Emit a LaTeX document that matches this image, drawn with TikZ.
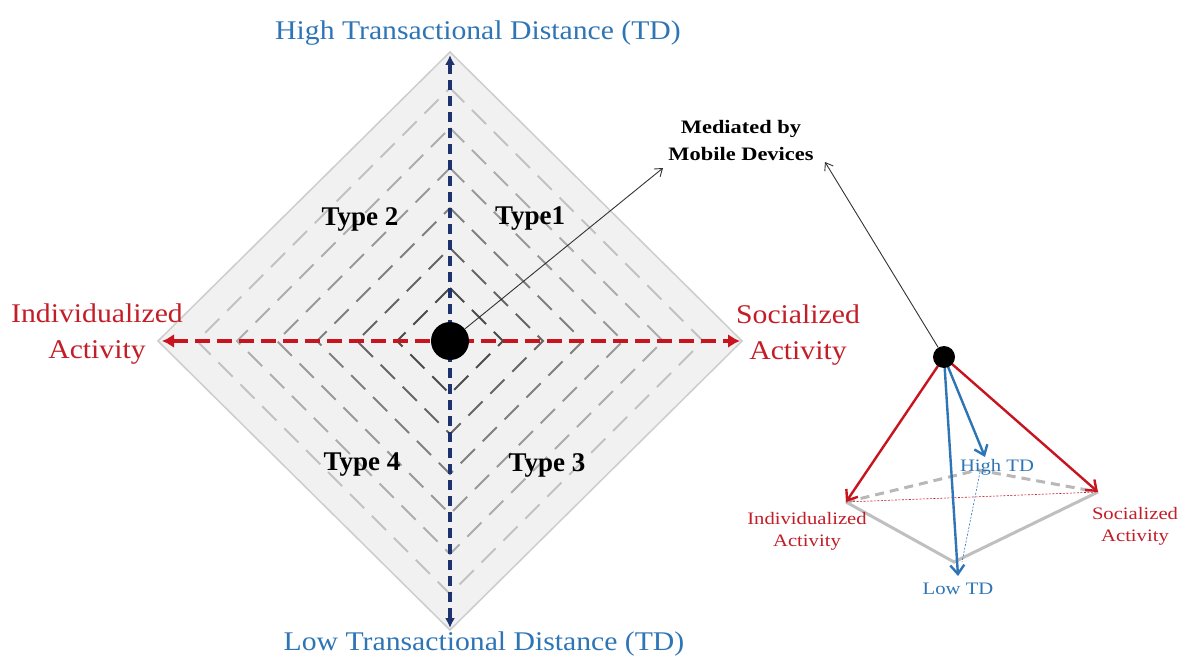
\documentclass[tikz,border=0pt]{standalone}
\usepackage{fontspec}
\setmainfont{Liberation Serif}
\newfontfamily\wideserif[FakeStretch=1.1]{Liberation Serif}
\newfontfamily\widerserif[FakeStretch=1.18]{Liberation Serif}
\usetikzlibrary{arrows.meta}
\definecolor{tdblue}{RGB}{46,117,182}
\definecolor{axblue}{RGB}{30,50,110}
\definecolor{axred}{RGB}{200,20,30}
\definecolor{txred}{RGB}{195,30,40}
\definecolor{diamfill}{RGB}{241,241,241}
\definecolor{diamedge}{RGB}{205,205,205}
\tikzset{
  lbl/.style={font=\wideserif\fontsize{27}{36}\selectfont, align=center},
  typelbl/.style={font=\bfseries\fontsize{27}{29}\selectfont},
  smalllbl/.style={font=\widerserif\fontsize{17.5}{22}\selectfont, align=center},
  ring/.style={line width=2pt, dash pattern=on 20pt off 11pt},
  connector/.style={draw=black!80, line width=0.9pt, -{Straight Barb[length=7pt,width=10pt]}},
}
\begin{document}
\begin{tikzpicture}[x=1pt,y=-1pt]
\useasboundingbox (0,0) rectangle (1181,660);
\fill[white] (0,0) rectangle (1181,660);
% diamond
\coordinate (top) at (450,52);
\coordinate (bot) at (450,630);
\coordinate (lft) at (158,341);
\coordinate (rgt) at (742,341);
\filldraw[fill=diamfill, draw=diamedge, line width=1.5pt] (top)--(rgt)--(bot)--(lft)--cycle;
\foreach \r/\c in {253/24,213/32,173/40,133/50,93/60,53/70}{
  \draw[ring, draw=black!\c] (450,341-\r) -- (450+\r,341) -- (450,341+\r) -- (450-\r,341) -- cycle;
}
% axes
\draw[axblue, line width=3.5pt, dash pattern=on 10pt off 6pt, {Latex[length=10pt,width=10pt]}-{Latex[length=10pt,width=10pt]}] (450,55) -- (450,628);
\draw[axred, line width=4.5pt, dash pattern=on 15pt off 7pt, {Latex[length=12pt,width=14pt]}-{Latex[length=12pt,width=14pt]}] (162,341) -- (740,341);
\node[circle, fill=black, minimum size=38pt, inner sep=0pt] (c) at (450,341) {};
% labels
\node[lbl, text=tdblue] (hi) at (478,33) {High Transactional Distance (TD)};
\node[lbl, text=tdblue] (lo) at (484,644) {Low Transactional Distance (TD)};
\node[lbl, text=txred] (ind) at (97,334) {Individualized\\Activity};
\node[lbl, text=txred] (soc) at (798,335) {Socialized\\Activity};
\node[typelbl] (t2) at (360,219) {Type 2};
\node[typelbl] (t1) at (530,219) {Type1};
\node[typelbl] (t4) at (362,465) {Type 4};
\node[typelbl] (t3) at (547,465) {Type 3};
\node[font=\widerserif\bfseries\fontsize{19}{27}\selectfont, align=center] (med) at (741,141) {Mediated by\\Mobile Devices};
% pyramid
\coordinate (ap) at (944,357);
\coordinate (pl) at (846,502);
\coordinate (pr) at (1098,492);
\coordinate (pb) at (958,576);
\coordinate (pk) at (978,470);
\coordinate (ph) at (985,457);
\draw[black!28, line width=3pt, dash pattern=on 9pt off 6pt] (pl) -- (pk) -- (pr);
\draw[black!25, line width=3pt] (pl) -- (954,562) -- (pr);
\draw[txred, line width=0.6pt, dash pattern=on 2pt off 1.5pt] (pl) -- (pr);
\draw[tdblue, line width=0.6pt, dash pattern=on 2pt off 1.5pt] (980,472) -- (962,562);
\draw[axred, line width=2.4pt, -{Straight Barb[length=9pt,width=14pt]}] (ap) -- (pl);
\draw[axred, line width=2.4pt, -{Straight Barb[length=9pt,width=14pt]}] (ap) -- (pr);
\draw[tdblue, line width=2.4pt, -{Straight Barb[length=9pt,width=14pt]}] (ap) -- (ph);
\draw[tdblue, line width=2.4pt, -{Straight Barb[length=9pt,width=14pt]}] (ap) -- (pb);
\node[circle, fill=black, minimum size=22pt, inner sep=0pt] (sd) at (ap) {};
\node[smalllbl, text=tdblue] (hitd) at (997,467) {High TD};
\node[smalllbl, text=tdblue] (lotd) at (958,589) {Low TD};
\node[smalllbl, text=txred] (pind) at (807,531) {Individualized\\Activity};
\node[smalllbl, text=txred] (psoc) at (1135,526) {Socialized\\Activity};
% connectors
\coordinate (m1) at (663,168);
\coordinate (m2) at (825,162);
\draw[connector] (c) -- (m1);
\draw[connector] (sd) -- (m2);
\end{tikzpicture}
\end{document}
